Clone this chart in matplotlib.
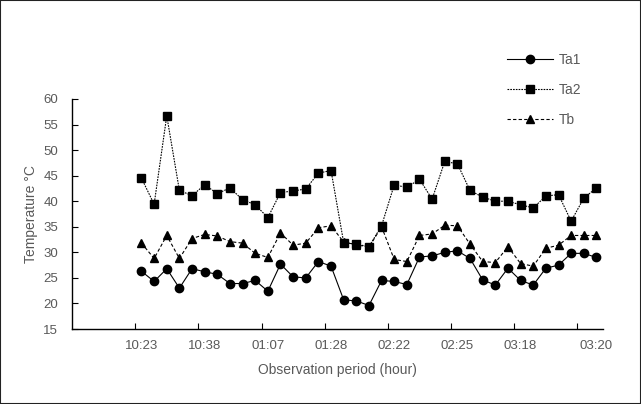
import numpy as np
import matplotlib.pyplot as plt
from matplotlib.patches import Rectangle

plt.rcParams['font.family'] = ['Liberation Sans', 'DejaVu Sans']

# Readings (degrees C), 37 observations
ta1 = [26.3, 24.3, 26.8, 23.0, 26.8, 26.2, 25.7, 23.9, 23.9, 24.5,
       22.4, 27.7, 25.2, 25.0, 28.2, 27.3, 20.7, 20.5, 19.6, 24.5,
       24.3, 23.7, 29.1, 29.3, 30.0, 30.3, 28.8, 24.6, 23.6, 26.9,
       24.5, 23.6, 26.9, 27.5, 29.8, 29.8, 29.0]
ta2 = [44.5, 39.4, 56.7, 42.1, 41.1, 43.2, 41.5, 42.6, 40.3, 39.3,
       36.8, 41.7, 42.0, 42.4, 45.5, 46.0, 31.9, 31.6, 31.1, 35.2,
       43.2, 42.7, 44.3, 40.4, 47.8, 47.3, 42.1, 40.8, 40.0, 40.0,
       39.3, 38.7, 41.0, 41.3, 36.1, 40.6, 42.6]
tb = [31.8, 28.8, 33.3, 28.8, 32.7, 33.5, 33.2, 32.1, 31.8, 29.8,
      29.0, 33.8, 31.4, 31.8, 34.8, 35.2, 32.0, 31.5, 31.0, 35.0,
      28.6, 28.2, 33.3, 33.6, 35.3, 35.2, 31.6, 28.2, 28.0, 31.1,
      27.8, 27.3, 30.8, 31.4, 33.3, 33.3, 33.3]

tick_labels = ['10:23', '10:38', '01:07', '01:28', '02:22', '02:25', '03:18', '03:20']
label_pos = [0, 5, 10, 15, 20, 25, 30, 36]

x = np.arange(len(ta1))
grey = '#595959'

fig = plt.figure(figsize=(6.41, 4.04), dpi=100)
ax = fig.add_axes([0.1123, 0.1856, 0.828, 0.5694])

ax.plot(x, ta1, color='black', lw=0.8, ls='-', marker='o', ms=6, label='Ta1')
ax.plot(x, ta2, color='black', lw=0.8, ls=(0, (1.5, 1)), marker='s', ms=5.3, label='Ta2')
ax.plot(x, tb, color='black', lw=0.8, ls=(0, (3, 2)), marker='^', ms=6, label='Tb')

ax.set_xlim(-5.5, 36.5)
ax.set_ylim(15, 60)
ax.set_yticks(np.arange(15, 61, 5))

# ticks sit between categories, labels on the categories
ax.set_xticks(np.arange(-0.5, 36, 5))
ax.set_xticklabels([])
ax.set_xticks(label_pos, minor=True)
ax.set_xticklabels(tick_labels, minor=True)
ax.tick_params(axis='x', which='minor', length=0, pad=8, labelsize=9.5, labelcolor=grey)
ax.tick_params(axis='x', which='major', direction='in', length=4, width=0.8)
ax.tick_params(axis='y', direction='in', length=4, width=0.8, labelsize=9.5, labelcolor=grey, pad=10)

for side in ['top', 'right']:
    ax.spines[side].set_visible(False)
for side in ['left', 'bottom']:
    ax.spines[side].set_linewidth(1.0)

ax.set_xlabel('Observation period (hour)', fontsize=10, color=grey, labelpad=8)
ax.set_ylabel('Temperature °C', fontsize=10, color=grey, labelpad=4)

ax.legend(loc='upper left', bbox_to_anchor=(0.82, 1.2), frameon=False, fontsize=10,
          labelcolor=grey, handlelength=3.3, labelspacing=1.15, handletextpad=0.4,
          borderaxespad=0, borderpad=0)

fig.patches.append(Rectangle((0, 0), 1, 1, transform=fig.transFigure, fill=False,
                             edgecolor='#222222', lw=1.5))

fig.savefig('out.png', dpi=100)
